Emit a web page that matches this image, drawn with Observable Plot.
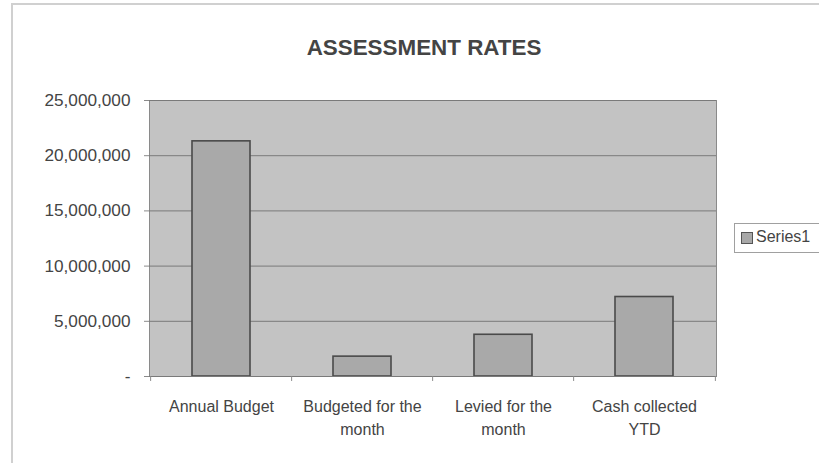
<!DOCTYPE html>
<html>
<head>
<meta charset="utf-8">
<script src="https://cdn.jsdelivr.net/npm/d3@7"></script>
<script src="https://cdn.jsdelivr.net/npm/@observablehq/plot@0.6"></script>
<style>
  html, body { margin: 0; padding: 0; background: #fff; }
  #wrap { position: relative; width: 819px; height: 463px; overflow: hidden; font-family: "Liberation Sans", Arial, sans-serif; }
  #frame { position: absolute; left: 11px; top: 3px; width: 900px; height: 600px; border-left: 2px solid #d0d0d0; border-top: 2px solid #d0d0d0; pointer-events: none; }
  #legend { position: absolute; left: 734px; top: 223px; width: 86px; height: 30px; border: 1px solid #a0a0a0; background: #fff; box-sizing: border-box; }
  #legend .sw { position: absolute; left: 6px; top: 8px; width: 10px; height: 10px; background: #a8a8a8; border: 1px solid #555; }
  #legend .lb { position: absolute; left: 21px; top: 4px; font-size: 16px; color: #444; }
</style>
</head>
<body>
<div id="wrap">
  <div id="frame"></div>
  <div id="chart"></div>
  <div id="legend"><div class="sw"></div><div class="lb">Series1</div></div>
</div>
<script>
const title = "ASSESSMENT RATES";
const categories = ["Annual Budget", "Budgeted for the month", "Levied for the month", "Cash collected YTD"];
const categoryLabels = ["Annual Budget", "Budgeted for the\nmonth", "Levied for the\nmonth", "Cash collected\nYTD"];
const series1 = [21300000, 1800000, 3780000, 7200000];
const yTicks = [0, 5000000, 10000000, 15000000, 20000000, 25000000];

const data = categories.map((c, i) => ({category: c, label: categoryLabels[i], value: series1[i]}));

const W = 819, H = 463, mL = 149, mR = 103, mT = 100, mB = 87;
const step = (W - mL - mR) / categories.length;
const font = "'Liberation Sans', Arial, sans-serif";

const chart = Plot.plot({
  width: W, height: H,
  marginLeft: mL, marginRight: mR, marginTop: mT, marginBottom: mB,
  style: {fontFamily: font, background: "transparent", overflow: "visible"},
  x: {type: "band", domain: categories, paddingInner: 0.59, paddingOuter: 0.295, axis: null},
  y: {domain: [0, 25000000], axis: null},
  marks: [
    Plot.frame({fill: "#c3c3c3", stroke: "#8a8a8a"}),
    Plot.ruleY(yTicks.filter(d => d > 0), {stroke: "#7a7a7a", strokeWidth: 1}),
    Plot.barY(data, {x: "category", y: "value", fill: "#a9a9a9", stroke: "#4a4a4a", strokeWidth: 1.6}),
    Plot.ruleY([0], {stroke: "#7a7a7a", strokeWidth: 1.2}),
    Plot.ruleX(categories, {x: d => d, dx: -step / 2, y1: 0, y2: -450000, stroke: "#8a8a8a"}),
    Plot.ruleX([categories[categories.length - 1]], {x: d => d, dx: step / 2, y1: 0, y2: -450000, stroke: "#8a8a8a"}),
    Plot.axisY(yTicks, {
      label: null,
      tickFormat: d => d === 0 ? "-" : d3.format(",")(d),
      tickSize: 5, tickPadding: 14, fontSize: 17.2, color: "#444", stroke: "#8a8a8a"
    }),
    Plot.text(data, {x: "category", y: () => 0, text: "label", dy: 19, lineAnchor: "top", lineHeight: 1.45, fontSize: 16, fill: "#444"}),
    Plot.text([title], {frameAnchor: "top", dx: -9, dy: -61, fontSize: 22.4, fontWeight: "bold", fill: "#444"})
  ]
});
document.getElementById("chart").appendChild(chart);
</script>
</body>
</html>
